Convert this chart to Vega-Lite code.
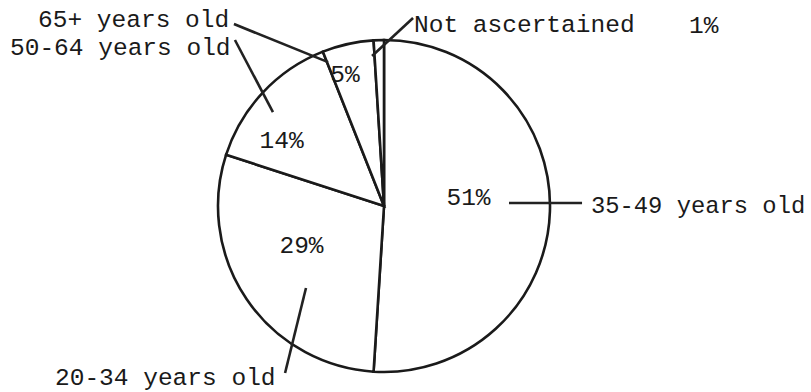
{
  "$schema": "https://vega.github.io/schema/vega-lite/v6.json",
  "width": 811,
  "height": 392,
  "padding": 0,
  "autosize": "none",
  "background": "white",
  "config": {
    "view": {"stroke": null},
    "axis": {"disable": true},
    "text": {"font": "Liberation Mono", "fontSize": 24.5, "fill": "#1a1a1a", "baseline": "alphabetic"},
    "rule": {"stroke": "#222222", "strokeWidth": 2.6}
  },
  "data": {
    "values": [
      {"group": "35-49 years old", "share": 0.51, "order": 1},
      {"group": "20-34 years old", "share": 0.29, "order": 2},
      {"group": "50-64 years old", "share": 0.14, "order": 3},
      {"group": "65+ years old", "share": 0.05, "order": 4},
      {"group": "Not ascertained", "share": 0.01, "order": 5}
    ]
  },
  "layer": [
    {
      "mark": {"type": "arc", "radius": 166, "fill": "white", "stroke": "#1a1a1a", "strokeWidth": 2.6},
      "encoding": {
        "x": {"datum": 0, "type": "quantitative", "scale": {"domain": [-231.33, 257.23], "nice": false, "zero": false}},
        "y": {"datum": 0, "type": "quantitative", "scale": {"domain": [-112.05, 124.10], "nice": false, "zero": false}},
        "theta": {"field": "share", "type": "quantitative", "stack": true},
        "order": {"field": "order", "type": "quantitative"}
      }
    },
    {
      "transform": [{"filter": "datum.group === '35-49 years old'"}],
      "mark": {"type": "text", "align": "center"},
      "encoding": {
        "x": {"datum": 50.9, "type": "quantitative", "scale": {"domain": [-231.33, 257.23], "nice": false, "zero": false}},
        "y": {"datum": 0.6, "type": "quantitative", "scale": {"domain": [-112.05, 124.10], "nice": false, "zero": false}},
        "text": {"field": "share", "type": "quantitative", "format": ".0%"}
      }
    },
    {
      "transform": [{"filter": "datum.group === '20-34 years old'"}],
      "mark": {"type": "text", "align": "center"},
      "encoding": {
        "x": {"datum": -49.7, "type": "quantitative", "scale": {"domain": [-231.33, 257.23], "nice": false, "zero": false}},
        "y": {"datum": -28.3, "type": "quantitative", "scale": {"domain": [-112.05, 124.10], "nice": false, "zero": false}},
        "text": {"field": "share", "type": "quantitative", "format": ".0%"}
      }
    },
    {
      "transform": [{"filter": "datum.group === '50-64 years old'"}],
      "mark": {"type": "text", "align": "center"},
      "encoding": {
        "x": {"datum": -61.7, "type": "quantitative", "scale": {"domain": [-231.33, 257.23], "nice": false, "zero": false}},
        "y": {"datum": 34.9, "type": "quantitative", "scale": {"domain": [-112.05, 124.10], "nice": false, "zero": false}},
        "text": {"field": "share", "type": "quantitative", "format": ".0%"}
      }
    },
    {
      "transform": [{"filter": "datum.group === '65+ years old'"}],
      "mark": {"type": "text", "align": "center"},
      "encoding": {
        "x": {"datum": -23.5, "type": "quantitative", "scale": {"domain": [-231.33, 257.23], "nice": false, "zero": false}},
        "y": {"datum": 74.7, "type": "quantitative", "scale": {"domain": [-112.05, 124.10], "nice": false, "zero": false}},
        "text": {"field": "share", "type": "quantitative", "format": ".0%"}
      }
    },
    {
      "transform": [{"filter": "datum.group === 'Not ascertained'"}],
      "mark": {"type": "text", "align": "left"},
      "encoding": {
        "x": {"datum": 183.7, "type": "quantitative", "scale": {"domain": [-231.33, 257.23], "nice": false, "zero": false}},
        "y": {"datum": 104.5, "type": "quantitative", "scale": {"domain": [-112.05, 124.10], "nice": false, "zero": false}},
        "text": {"field": "share", "type": "quantitative", "format": ".0%"}
      }
    },
    {
      "transform": [{"filter": "datum.group === '65+ years old'"}],
      "mark": {"type": "text", "align": "left"},
      "encoding": {
        "x": {"datum": -208.4, "type": "quantitative", "scale": {"domain": [-231.33, 257.23], "nice": false, "zero": false}},
        "y": {"datum": 107.8, "type": "quantitative", "scale": {"domain": [-112.05, 124.10], "nice": false, "zero": false}},
        "text": {"field": "group", "type": "nominal"}
      }
    },
    {
      "transform": [{"filter": "datum.group === '50-64 years old'"}],
      "mark": {"type": "text", "align": "left"},
      "encoding": {
        "x": {"datum": -225.3, "type": "quantitative", "scale": {"domain": [-231.33, 257.23], "nice": false, "zero": false}},
        "y": {"datum": 91.0, "type": "quantitative", "scale": {"domain": [-112.05, 124.10], "nice": false, "zero": false}},
        "text": {"field": "group", "type": "nominal"}
      }
    },
    {
      "transform": [{"filter": "datum.group === 'Not ascertained'"}],
      "mark": {"type": "text", "align": "left"},
      "encoding": {
        "x": {"datum": 18.1, "type": "quantitative", "scale": {"domain": [-231.33, 257.23], "nice": false, "zero": false}},
        "y": {"datum": 104.8, "type": "quantitative", "scale": {"domain": [-112.05, 124.10], "nice": false, "zero": false}},
        "text": {"field": "group", "type": "nominal"}
      }
    },
    {
      "transform": [{"filter": "datum.group === '35-49 years old'"}],
      "mark": {"type": "text", "align": "left", "fontSize": 23.8},
      "encoding": {
        "x": {"datum": 124.7, "type": "quantitative", "scale": {"domain": [-231.33, 257.23], "nice": false, "zero": false}},
        "y": {"datum": -4.2, "type": "quantitative", "scale": {"domain": [-112.05, 124.10], "nice": false, "zero": false}},
        "text": {"field": "group", "type": "nominal"}
      }
    },
    {
      "transform": [{"filter": "datum.group === '20-34 years old'"}],
      "mark": {"type": "text", "align": "left"},
      "encoding": {
        "x": {"datum": -198.2, "type": "quantitative", "scale": {"domain": [-231.33, 257.23], "nice": false, "zero": false}},
        "y": {"datum": -107.8, "type": "quantitative", "scale": {"domain": [-112.05, 124.10], "nice": false, "zero": false}},
        "text": {"field": "group", "type": "nominal"}
      }
    },
    {
      "transform": [{"filter": "datum.group === '65+ years old'"}],
      "mark": {"type": "rule"},
      "encoding": {
        "x": {"datum": -90.4, "type": "quantitative", "scale": {"domain": [-231.33, 257.23], "nice": false, "zero": false}},
        "y": {"datum": 109.6, "type": "quantitative", "scale": {"domain": [-112.05, 124.10], "nice": false, "zero": false}},
        "x2": {"datum": -33.7},
        "y2": {"datum": 86.7}
      }
    },
    {
      "transform": [{"filter": "datum.group === '50-64 years old'"}],
      "mark": {"type": "rule"},
      "encoding": {
        "x": {"datum": -89.8, "type": "quantitative", "scale": {"domain": [-231.33, 257.23], "nice": false, "zero": false}},
        "y": {"datum": 100.0, "type": "quantitative", "scale": {"domain": [-112.05, 124.10], "nice": false, "zero": false}},
        "x2": {"datum": -66.9},
        "y2": {"datum": 56.6}
      }
    },
    {
      "transform": [{"filter": "datum.group === 'Not ascertained'"}],
      "mark": {"type": "rule"},
      "encoding": {
        "x": {"datum": 17.5, "type": "quantitative", "scale": {"domain": [-231.33, 257.23], "nice": false, "zero": false}},
        "y": {"datum": 113.3, "type": "quantitative", "scale": {"domain": [-112.05, 124.10], "nice": false, "zero": false}},
        "x2": {"datum": -7.2},
        "y2": {"datum": 90.4}
      }
    },
    {
      "transform": [{"filter": "datum.group === '35-49 years old'"}],
      "mark": {"type": "rule"},
      "encoding": {
        "x": {"datum": 75.3, "type": "quantitative", "scale": {"domain": [-231.33, 257.23], "nice": false, "zero": false}},
        "y": {"datum": 1.8, "type": "quantitative", "scale": {"domain": [-112.05, 124.10], "nice": false, "zero": false}},
        "x2": {"datum": 119.3},
        "y2": {"datum": 1.8}
      }
    },
    {
      "transform": [{"filter": "datum.group === '20-34 years old'"}],
      "mark": {"type": "rule"},
      "encoding": {
        "x": {"datum": -47.0, "type": "quantitative", "scale": {"domain": [-231.33, 257.23], "nice": false, "zero": false}},
        "y": {"datum": -49.4, "type": "quantitative", "scale": {"domain": [-112.05, 124.10], "nice": false, "zero": false}},
        "x2": {"datum": -59.6},
        "y2": {"datum": -100.6}
      }
    }
  ]
}
